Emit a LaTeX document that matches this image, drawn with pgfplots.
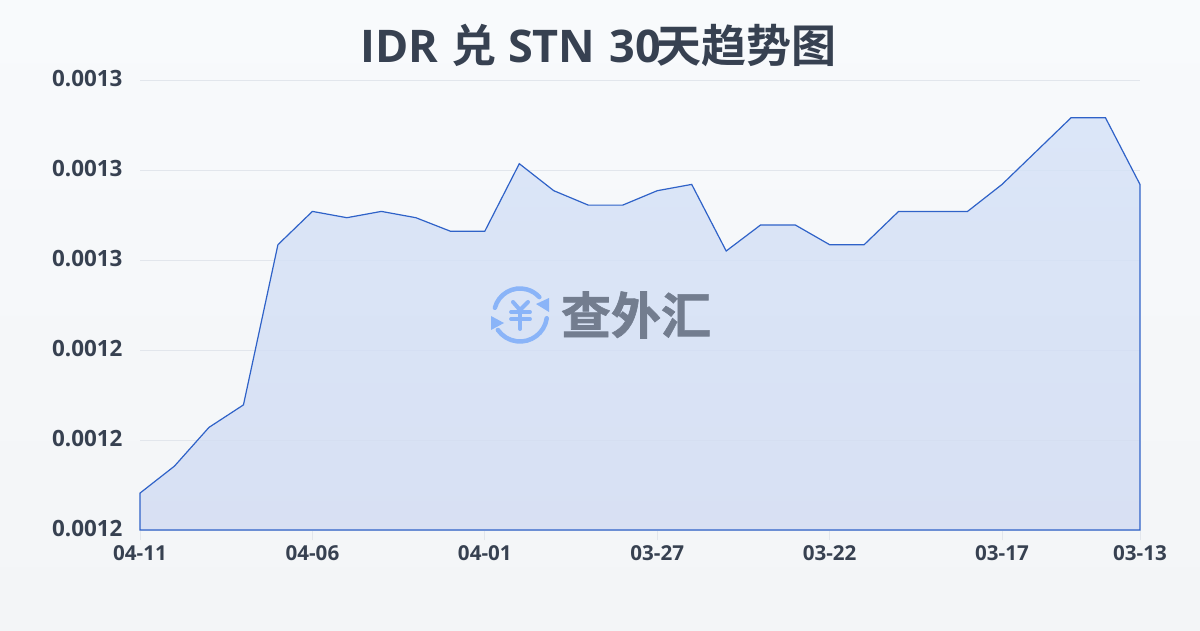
\documentclass[border=0pt]{standalone}
\usepackage{pgfplots}
\pgfplotsset{compat=1.18}
\usepackage{fontspec}
\setmainfont{Open Sans}
\newfontfamily\latb{Open Sans}
\newfontfamily\cjk{Noto Sans CJK SC Bold}
\newfontfamily\cjkh{Noto Sans CJK SC Bold}[FakeBold=1.2]
\definecolor{txt}{HTML}{374151}
\definecolor{ttl}{HTML}{374151}
\definecolor{gridc}{HTML}{E2E6EC}
\definecolor{linec}{HTML}{2F62C8}
\definecolor{logoc}{HTML}{8AB4F8}
\definecolor{wm}{HTML}{737D8F}
\definecolor{bgt}{HTML}{F8FAFC}
\definecolor{bgb}{HTML}{F3F5F7}
\definecolor{ft}{HTML}{D4E2F8}
\definecolor{fb}{HTML}{D1DBF2}
\begin{document}
\begin{tikzpicture}[x=1pt,y=1pt]
\path[top color=bgt,bottom color=bgb] (0,0) rectangle (1200,630);
\begin{axis}[
  at={(140pt,100pt)},anchor=south west,
  scale only axis,width=1000pt,height=450pt,
  xmin=0,xmax=29,ymin=0.00122,ymax=0.00127,
  xtick={0,5,10,15,20,25,29},
  xticklabels={\textbf{04-11},\textbf{04-06},\textbf{04-01},\textbf{03-27},\textbf{03-22},\textbf{03-17},\textbf{03-13}},
  ytick={0.00122,0.00123,0.00124,0.00125,0.00126,0.00127},
  yticklabels={\textbf{0.0012},\textbf{0.0012},\textbf{0.0012},\textbf{0.0013},\textbf{0.0013},\textbf{0.0013}},
  scaled y ticks=false,
  axis line style={draw=none},
  ymajorgrids,
  major grid style={gridc,line width=0.8pt},
  tick align=outside,
  major tick length=10pt,
  xtick pos=bottom,
  ytick style={draw=none},
  xtick style={gridc,line width=0.8pt},
  xticklabel style={text=txt,font=\fontsize{20.6}{22}\selectfont,yshift=-2pt},
  yticklabel style={text=txt,font=\fontsize{22.4}{24}\selectfont,xshift=-4pt,yshift=1pt},
  clip=false,
]
\addplot[draw=linec,line width=1.2pt,top color=ft,bottom color=fb,fill opacity=0.8] coordinates {
(0,0.0012241)(1,0.0012271)(2,0.0012314)(3,0.0012339)(4,0.0012517)(5,0.0012554)
(6,0.0012547)(7,0.0012554)(8,0.0012547)(9,0.0012532)(10,0.0012532)(11,0.0012607)
(12,0.0012577)(13,0.0012561)(14,0.0012561)(15,0.0012577)(16,0.0012584)(17,0.0012510)
(18,0.0012539)(19,0.0012539)(20,0.0012517)(21,0.0012517)(22,0.0012554)(23,0.0012554)
(24,0.0012554)(25,0.0012584)(26,0.0012621)(27,0.0012658)(28,0.0012658)(29,0.0012584)
} \closedcycle;
\end{axis}
\node[text=ttl,font=\fontsize{45}{50}\selectfont,anchor=center] at (598.5,585) {{\latb\bfseries IDR}\hspace{13pt}{\cjk 兑}\hspace{12pt}{\latb\bfseries STN}\hspace{14pt}{\latb\bfseries 30}\hspace{-4pt}{\cjk 天趋势图}};
\node[text=wm,font=\fontsize{50}{54}\selectfont\cjkh,anchor=center] at (636,315) {查外汇};
\begin{scope}[logoc]
\draw[line width=4.5pt,line cap=round] (520,315.5)++(165:26) arc[start angle=165,end angle=42,radius=26];
\draw[line width=4.5pt,line cap=round] (520,315.5)++(-8:27) arc[start angle=-8,end angle=-145,radius=27];
\fill (549,318) -- (549,332) -- (536,326) -- cycle;
\fill (491,314) -- (491,300) -- (504,307) -- cycle;
\draw[line width=4pt,line cap=round,line join=round] (513,328) -- (520,320) -- (528,328);
\draw[line width=4pt,line cap=round] (520,320) -- (520,301);
\draw[line width=3.8pt,line cap=round] (511,318) -- (530,318);
\draw[line width=3.8pt,line cap=round] (511,311) -- (530,311);
\end{scope}
\end{tikzpicture}
\end{document}
